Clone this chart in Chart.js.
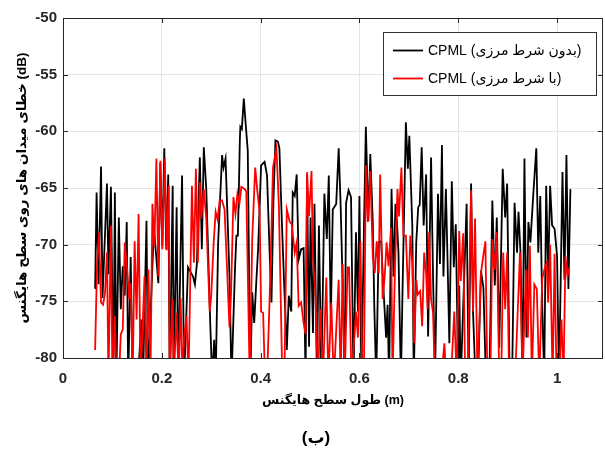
<!DOCTYPE html>
<html>
<head>
<meta charset="utf-8">
<script src="https://cdn.jsdelivr.net/npm/chart.js@4"></script>
<style>
  html, body { margin: 0; padding: 0; background: #fff; }
  #wrap { width: 605px; height: 454px; }
</style>
</head>
<body>
<div id="wrap"><canvas id="chart" width="605" height="454"></canvas></div>
<script>
// values
const seriesNames = ['CPML (بدون شرط مرزی)', 'CPML (با شرط مرزی)'];
const xTicks = [0, 0.2, 0.4, 0.6, 0.8, 1];
const xTickLabels = ['0', '0.2', '0.4', '0.6', '0.8', '1'];
const yTicks = [-80, -75, -70, -65, -60, -55, -50];
const yTickLabels = ['-80', '-75', '-70', '-65', '-60', '-55', '-50'];

const blackX = [
  0.065,0.068,0.072,0.077,0.080,0.089,0.092,0.097,0.102,0.105,
  0.108,0.113,0.117,0.121,0.125,0.129,0.132,0.137,0.141,0.150,
  0.159,0.162,0.169,0.172,0.184,0.193,0.197,0.201,0.205,0.209,
  0.213,0.216,0.222,0.224,0.230,0.233,0.241,0.245,0.253,0.263,
  0.267,0.271,0.277,0.281,0.285,0.290,0.298,0.302,0.306,0.309,
  0.314,0.322,0.325,0.329,0.337,0.341,0.348,0.351,0.354,0.358,
  0.359,0.362,0.366,0.370,0.374,0.379,0.383,0.387,0.391,0.395,
  0.401,0.408,0.413,0.418,0.422,0.426,0.430,0.435,0.438,0.443,
  0.448,0.453,0.457,0.462,0.465,0.469,0.473,0.477,0.482,0.487,
  0.491,0.494,0.498,0.501,0.506,0.509,0.514,0.518,0.523,0.529,
  0.534,0.538,0.542,0.546,0.553,0.558,0.562,0.566,0.570,0.573,
  0.578,0.583,0.588,0.593,0.597,0.600,0.604,0.609,0.613,0.618,
  0.622,0.627,0.630,0.634,0.639,0.644,0.648,0.654,0.657,0.660,
  0.665,0.669,0.673,0.676,0.679,0.684,0.687,0.694,0.698,0.701,
  0.707,0.710,0.715,0.719,0.722,0.726,0.730,0.735,0.739,0.745,
  0.749,0.753,0.759,0.763,0.767,0.770,0.775,0.778,0.782,0.787,
  0.791,0.795,0.800,0.802,0.805,0.817,0.821,0.826,0.830,0.835,
  0.840,0.846,0.851,0.856,0.863,0.869,0.874,0.878,0.883,0.890,
  0.895,0.899,0.904,0.909,0.914,0.919,0.922,0.926,0.930,0.934,
  0.938,0.942,0.946,0.952,0.958,0.962,0.966,0.970,0.974,0.978,
  0.982,0.986,0.990,0.995,1.000,1.004,1.011,1.015,1.019,1.023,
  1.027
];
const blackY = [
  -73.9,-65.4,-73.5,-63.1,-74.7,-64.6,-72.6,-64.9,-82,-65.4,
  -82,-67.6,-75.7,-71.9,-74.5,-68,-82,-71.1,-82,-83,
  -76.6,-82,-67.9,-82,-68.5,-73.4,-62.8,-70.1,-61.5,-70.4,
  -63.8,-82,-64.8,-82,-66.7,-82,-63.9,-82,-72,-72.8,
  -73.5,-71.7,-62.3,-70.4,-61.4,-65.1,-76.9,-82,-78.4,-82,
  -69.8,-62.1,-63.2,-62.4,-72.8,-82,-72.3,-69.2,-69.2,-60.7,
  -59.6,-59.8,-57.1,-59.5,-61.7,-82,-74.2,-76.9,-73.5,-70.3,
  -63,-62.7,-63.9,-70.4,-75.1,-66,-60.8,-60.9,-61.5,-68,
  -73.9,-79.3,-74.5,-75.9,-65.4,-65.7,-63.8,-71.3,-70.4,-70.3,
  -82,-63.8,-79,-67.6,-77.8,-66.4,-82,-68.3,-82,-65.5,
  -69.5,-63.9,-76.9,-66.9,-66.4,-61.5,-66.6,-73.4,-82,-66.3,
  -65.2,-65.8,-82,-68.9,-75.9,-65.7,-82,-68.9,-59.6,-67.9,
  -62,-68,-75.3,-82,-69.8,-69.7,-73.4,-78.2,-75.3,-82,
  -65.1,-72.8,-66.4,-68,-70.7,-82,-74.6,-59.2,-63.3,-60.4,
  -68.3,-82,-69.8,-66.7,-66.5,-61.4,-68.3,-63.8,-78.1,-62.3,
  -72.8,-82,-65.5,-71.7,-61.2,-72.8,-65.1,-70.7,-78.7,-64.4,
  -72,-68.2,-82,-73.6,-82,-66.4,-82,-64.6,-76,-82,
  -82,-72.3,-73.8,-82,-82,-66.1,-73.6,-67.6,-79.1,-63.3,
  -67.6,-64.6,-82,-82,-66.3,-70.7,-67.1,-70.7,-82,-62.4,
  -78.2,-68,-69.8,-65.5,-61.5,-70.7,-65.7,-75.3,-82,-64.8,
  -72.8,-64.8,-68.3,-68.6,-71,-82,-63.6,-73.1,-62.1,-73.9,
  -65.1
];

const redX = [
  0.065,0.069,0.073,0.077,0.081,0.085,0.089,0.092,0.097,0.100,
  0.105,0.108,0.113,0.117,0.121,0.125,0.130,0.134,0.137,0.141,
  0.145,0.149,0.153,0.157,0.165,0.169,0.173,0.177,0.181,0.185,
  0.189,0.193,0.197,0.201,0.206,0.210,0.214,0.216,0.222,0.224,
  0.230,0.234,0.238,0.242,0.245,0.250,0.254,0.261,0.265,0.269,
  0.273,0.277,0.280,0.285,0.290,0.297,0.300,0.305,0.309,0.313,
  0.317,0.322,0.327,0.337,0.340,0.345,0.349,0.353,0.357,0.361,
  0.368,0.371,0.378,0.383,0.389,0.393,0.398,0.401,0.405,0.409,
  0.413,0.420,0.425,0.432,0.437,0.444,0.448,0.453,0.459,0.463,
  0.469,0.473,0.477,0.482,0.487,0.491,0.494,0.498,0.503,0.506,
  0.511,0.516,0.521,0.526,0.533,0.537,0.543,0.548,0.558,0.562,
  0.566,0.570,0.576,0.579,0.584,0.593,0.597,0.602,0.606,0.609,
  0.613,0.617,0.622,0.627,0.631,0.635,0.639,0.642,0.647,0.651,
  0.655,0.659,0.664,0.667,0.672,0.677,0.680,0.685,0.689,0.694,
  0.699,0.703,0.707,0.711,0.715,0.718,0.723,0.727,0.731,0.735,
  0.738,0.741,0.745,0.749,0.753,0.765,0.772,0.776,0.785,0.792,
  0.797,0.802,0.805,0.810,0.814,0.819,0.826,0.830,0.834,0.839,
  0.846,0.850,0.855,0.859,0.865,0.869,0.874,0.878,0.883,0.887,
  0.891,0.895,0.899,0.903,0.915,0.925,0.930,0.937,0.941,0.945,
  0.949,0.954,0.959,0.964,0.970,0.976,0.979,0.982,0.986,0.991,
  0.995,0.999,1.004,1.009,1.013,1.017,1.021,1.025
];
const redY = [
  -79.3,-71.6,-68.9,-75.1,-75.3,-74.3,-70.7,-82,-68.3,-82,
  -76.3,-82,-82,-77.9,-77.5,-69.8,-72.3,-74.8,-73.4,-82,
  -69.7,-76.6,-67.3,-82,-72.8,-82,-72.2,-82,-66.4,-70.1,
  -62.4,-72.8,-62.6,-70.4,-62.4,-70.5,-64.8,-82,-74.8,-82,
  -76,-82,-74.7,-82,-78.2,-76.3,-82,-64.8,-71.6,-63.3,
  -71.6,-64.5,-67.7,-65.1,-67.7,-75.9,-74.5,-69.8,-67.1,-67.8,
  -66.1,-66.1,-66.9,-77.3,-74.5,-65.8,-67.3,-65.5,-66.4,-64.9,
  -65.1,-65.3,-82,-69.5,-63.2,-65.1,-67.1,-75.9,-76,-82,
  -82,-72.2,-63.2,-61.5,-66.6,-82,-82,-66.9,-68,-68.2,
  -70.7,-69.8,-75.4,-75.1,-76.9,-77.9,-63.6,-67.5,-63.5,-71.3,
  -74.5,-82,-75.7,-82,-72.9,-82,-75.1,-82,-73.1,-82,
  -71.7,-82,-72,-72,-82,-75.9,-78.2,-69.7,-82,-82,
  -63,-68,-63.5,-71,-72.5,-69.7,-72.5,-63.8,-74.8,-72.9,
  -69.8,-71.9,-68.5,-82,-72,-65.1,-67.5,-63.2,-69.2,-69.2,
  -74.8,-69.2,-71.7,-78.7,-73.1,-74.4,-74.1,-77.2,-70.7,-72.6,
  -75.7,-68.9,-74.8,-76,-82,-82,-78.7,-82,-82,-75.9,
  -82,-68.8,-73.2,-69,-82,-82,-65.2,-75.9,-67.7,-82,
  -72.5,-71.2,-69.7,-82,-82,-69.5,-72.2,-68.9,-82,-82,
  -70.7,-75.7,-70.7,-82,-82,-70.7,-82,-72.2,-78.2,-70.1,
  -82,-73.5,-73.9,-82,-73,-71.9,-71.6,-75.1,-70,-82,
  -70.8,-82,-82,-76.6,-82,-71,-72.8,-72
];

const seriesColors = ['#000000', '#ff0000'];
const FONT = "'Liberation Sans', Arial, 'DejaVu Sans', sans-serif";
const AXIS_COLOR = '#262626';

function toPoints(xs, ys) {
  return xs.map((x, i) => ({ x: x, y: ys[i] }));
}

// axes box, inward ticks, boxed legend and the (ب) caption
const decorations = {
  id: 'decorations',
  afterDraw(chart) {
    const ctx = chart.ctx;
    const a = chart.chartArea;
    const sx = chart.scales.x, sy = chart.scales.y;
    ctx.save();
    ctx.strokeStyle = AXIS_COLOR;
    ctx.lineWidth = 1;
    ctx.strokeRect(Math.round(a.left) + 0.5, Math.round(a.top) + 0.5,
      Math.round(a.right - a.left) - 1, Math.round(a.bottom - a.top));
    ctx.beginPath();
    xTicks.forEach(v => {
      const px = Math.round(sx.getPixelForValue(v)) + 0.5;
      ctx.moveTo(px, a.bottom); ctx.lineTo(px, a.bottom - 5);
      ctx.moveTo(px, a.top); ctx.lineTo(px, a.top + 5);
    });
    yTicks.forEach(v => {
      const py = Math.round(sy.getPixelForValue(v)) + 0.5;
      ctx.moveTo(a.left, py); ctx.lineTo(a.left + 5, py);
      ctx.moveTo(a.right, py); ctx.lineTo(a.right - 5, py);
    });
    ctx.stroke();

    // legend
    const lx = 383.5, ly = 32.5, lw = 213, lh = 63;
    ctx.fillStyle = '#fff';
    ctx.fillRect(lx, ly, lw, lh);
    ctx.strokeStyle = '#333';
    ctx.strokeRect(lx, ly, lw, lh);
    ctx.font = '14px ' + FONT;
    ctx.textBaseline = 'middle';
    ctx.textAlign = 'left';
    seriesNames.forEach((name, i) => {
      const yy = 50.5 + i * 28;
      ctx.strokeStyle = seriesColors[i];
      ctx.lineWidth = 1.8;
      ctx.beginPath();
      ctx.moveTo(393, yy); ctx.lineTo(423, yy);
      ctx.stroke();
      ctx.fillStyle = '#000';
      ctx.fillText(name, 428, yy + 1);
    });

    ctx.font = 'bold 17px ' + FONT;
    ctx.textAlign = 'center';
    ctx.fillStyle = '#000';
    ctx.fillText('(ب)', 316, 438);
    ctx.restore();
  }
};

new Chart(document.getElementById('chart').getContext('2d'), {
  type: 'line',
  data: {
    datasets: [
      {
        label: seriesNames[0],
        data: toPoints(blackX, blackY),
        borderColor: seriesColors[0],
        borderWidth: 1.8,
        pointRadius: 0,
        tension: 0,
        clip: 0,
        order: 2
      },
      {
        label: seriesNames[1],
        data: toPoints(redX, redY),
        borderColor: seriesColors[1],
        borderWidth: 1.8,
        pointRadius: 0,
        tension: 0,
        clip: 0,
        order: 1
      }
    ]
  },
  options: {
    responsive: false,
    animation: false,
    events: [],
    layout: { padding: { top: 18, right: 2, left: 0, bottom: 0 } },
    plugins: {
      legend: { display: false },
      tooltip: { enabled: false },
      title: { display: false }
    },
    scales: {
      x: {
        type: 'linear',
        min: 0,
        max: 1.093,
        afterBuildTicks: s => { s.ticks = xTicks.map(v => ({ value: v })); },
        afterFit: s => { s.height = 96; },
        grid: { color: '#e4e4e4', drawTicks: false },
        border: { display: false },
        ticks: {
          padding: 12,
          color: AXIS_COLOR,
          font: { family: FONT, size: 15, weight: 'bold' },
          callback: (v) => xTickLabels[xTicks.indexOf(v)]
        },
        title: {
          display: true,
          text: 'طول سطح هایگنس (m)',
          color: '#000',
          font: { family: FONT, size: 12.5, weight: 'bold' },
          padding: { top: 0, bottom: 45.5 }
        }
      },
      y: {
        type: 'linear',
        min: -80,
        max: -50,
        afterBuildTicks: s => { s.ticks = yTicks.map(v => ({ value: v })); },
        afterFit: s => { s.width = 63; },
        grid: { color: '#e4e4e4', drawTicks: false },
        border: { display: false },
        ticks: {
          padding: 6,
          color: AXIS_COLOR,
          font: { family: FONT, size: 15, weight: 'bold' },
          callback: (v) => yTickLabels[yTicks.indexOf(v)]
        },
        title: {
          display: true,
          text: 'خطای میدان های روی سطح هایگنس (dB)',
          color: '#000',
          font: { family: FONT, size: 13.5, weight: 'bold' },
          padding: { top: 14, bottom: 0 }
        }
      }
    }
  },
  plugins: [decorations]
});
</script>
</body>
</html>
